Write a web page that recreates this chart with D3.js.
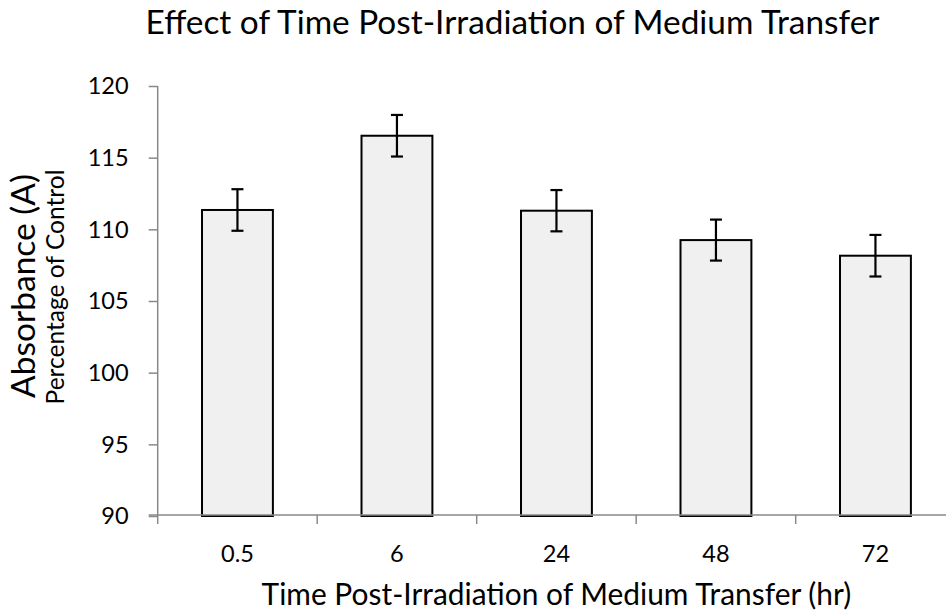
<!DOCTYPE html>
<html>
<head>
<meta charset="utf-8">
<script src="https://cdn.jsdelivr.net/npm/d3@7"></script>
<style>
  html, body { margin: 0; padding: 0; background: #ffffff; }
  svg { display: block; }
  text { font-family: Lato, "Open Sans", "Liberation Sans", sans-serif; fill: #000; }
</style>
</head>
<body>
<svg id="chart" width="946" height="611"></svg>
<script>
// Hours after irradiation at which the medium was transferred
const categories = ["0.5", "6", "24", "48", "72"];
// Absorbance as a percentage of control
const values = [111.35, 116.53, 111.3, 109.25, 108.16];
// Error bar half-lengths
const errors = [1.45, 1.45, 1.44, 1.43, 1.45];
// Y axis tick values
const yTicks = [90, 95, 100, 105, 110, 115, 120];

const titleText = "Effect of Time Post-Irradiation of Medium Transfer";
const xTitleText = "Time Post-Irradiation of Medium Transfer (hr)";
const yTitleText = "Absorbance (A)";
const ySubTitleText = "Percentage of Control";

const svg = d3.select("#chart");

const plot = { left: 157.7, right: 955.2, top: 86, bottom: 516 };
const axisColor = "#898989";

// Set a text element's font size so that it spans the given width
function fitWidth(sel, width) {
  const base = 30;
  sel.style("font-size", base + "px");
  const w = sel.node().getComputedTextLength();
  const size = base * width / w;
  sel.style("font-size", size + "px");
  return size;
}

const x = d3.scaleBand()
  .domain(categories)
  .range([plot.left, plot.right])
  .paddingInner(0.5556)
  .paddingOuter(0.2778);

const y = d3.scaleLinear()
  .domain([90, 120])
  .range([plot.bottom, plot.top]);

// tick label font size, measured from a sample label
const probe = svg.append("text").text("120");
const tickSize = fitWidth(probe, 41);
probe.remove();

// Bars
svg.append("g")
  .selectAll("rect")
  .data(categories)
  .join("rect")
  .attr("x", d => x(d))
  .attr("y", (d, i) => y(values[i]))
  .attr("width", x.bandwidth())
  .attr("height", (d, i) => y(90) - y(values[i]))
  .attr("fill", "#f0f0f0")
  .attr("stroke", "#000")
  .attr("stroke-width", 2);

// Error bars
const eb = svg.append("g")
  .attr("stroke", "#000")
  .attr("stroke-width", 2.2)
  .selectAll("g")
  .data(categories)
  .join("g")
  .attr("transform", d => `translate(${x(d) + x.bandwidth() / 2},0)`);
eb.append("line")
  .attr("y1", (d, i) => y(values[i] + errors[i]))
  .attr("y2", (d, i) => y(values[i] - errors[i]));
eb.append("line")
  .attr("x1", -6).attr("x2", 6)
  .attr("y1", (d, i) => y(values[i] + errors[i]))
  .attr("y2", (d, i) => y(values[i] + errors[i]));
eb.append("line")
  .attr("x1", -6).attr("x2", 6)
  .attr("y1", (d, i) => y(values[i] - errors[i]))
  .attr("y2", (d, i) => y(values[i] - errors[i]));

// Y axis
const yAxis = svg.append("g")
  .attr("transform", `translate(${plot.left},0)`)
  .call(d3.axisLeft(y).tickValues(yTicks).tickSize(9).tickPadding(20).tickFormat(d3.format("d")));
yAxis.select(".domain").attr("stroke", axisColor).attr("stroke-width", 1.5)
  .attr("d", `M0,${plot.top}V${plot.bottom + 8}`);
yAxis.selectAll(".tick line").attr("stroke", axisColor).attr("stroke-width", 1.5);
yAxis.selectAll(".tick text")
  .style("font-size", tickSize + "px")
  .attr("fill", "#000")
  .attr("dy", "0.33em");

// X axis: tick marks sit on the category boundaries
const step = x.step();
const boundaries = categories.map(c => x(c) - (step - x.bandwidth()) / 2);
const xAxisG = svg.append("g").attr("transform", `translate(0,${plot.bottom - 1})`);
xAxisG.append("line")
  .attr("x1", plot.left - 9).attr("x2", plot.right)
  .attr("stroke", axisColor).attr("stroke-width", 1.5);
xAxisG.selectAll("line.tick")
  .data(boundaries.slice(1))
  .join("line")
  .attr("class", "tick")
  .attr("x1", d => d).attr("x2", d => d)
  .attr("y1", 0).attr("y2", 9)
  .attr("stroke", axisColor).attr("stroke-width", 1.5);
xAxisG.selectAll("text")
  .data(categories)
  .join("text")
  .attr("x", d => x(d) + x.bandwidth() / 2)
  .attr("y", 47)
  .attr("text-anchor", "middle")
  .style("font-size", tickSize + "px")
  .text(d => d);

// Title
const title = svg.append("text")
  .attr("x", 512.5).attr("y", 34)
  .attr("text-anchor", "middle")
  .text(titleText);
fitWidth(title, 734);

// X axis title
const xTitle = svg.append("text")
  .attr("x", (plot.left + plot.right) / 2).attr("y", 605)
  .attr("text-anchor", "middle")
  .text(xTitleText);
fitWidth(xTitle, 590);

// Y axis titles
const yTitle = svg.append("text")
  .attr("transform", "translate(35,286) rotate(-90)")
  .attr("text-anchor", "middle")
  .text(yTitleText);
fitWidth(yTitle, 224);

const ySub = svg.append("text")
  .attr("transform", "translate(64,287) rotate(-90)")
  .attr("text-anchor", "middle")
  .text(ySubTitleText);
fitWidth(ySub, 235);
</script>
</body>
</html>
